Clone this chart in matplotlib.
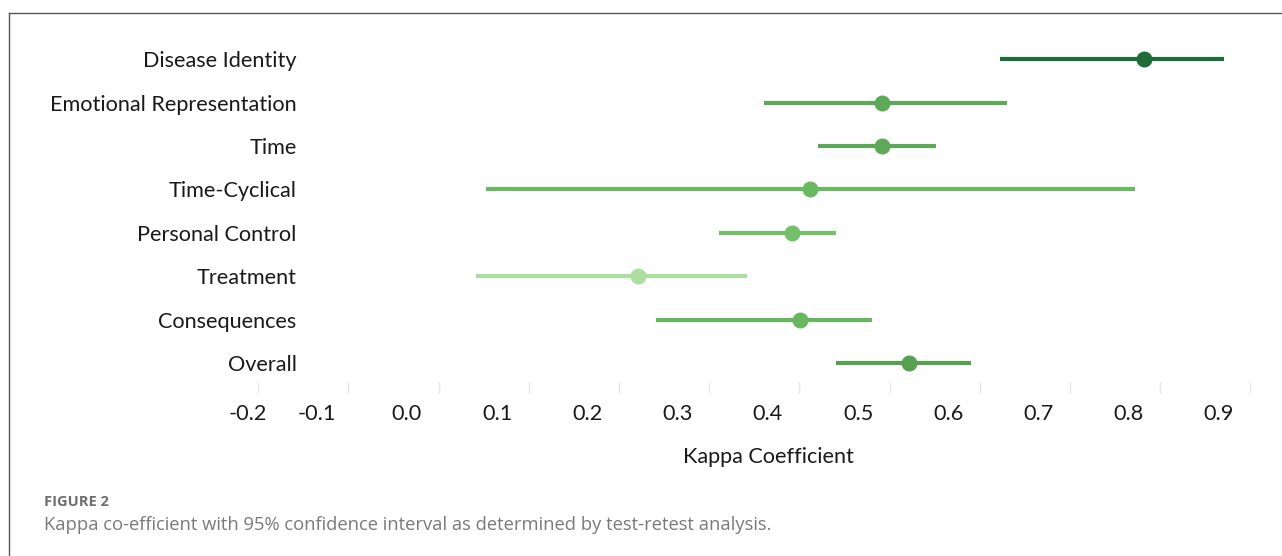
import matplotlib
matplotlib.use('Agg')
import matplotlib.pyplot as plt
from matplotlib.lines import Line2D
from matplotlib import transforms

# ---------------- data ----------------
categories = ['Disease Identity', 'Emotional Representation', 'Time', 'Time-Cyclical',
              'Personal Control', 'Treatment', 'Consequences', 'Overall']
kappa = [0.817, 0.527, 0.527, 0.447, 0.427, 0.256, 0.436, 0.557]
ci_low = [0.657, 0.396, 0.456, 0.088, 0.346, 0.076, 0.276, 0.476]
ci_high = [0.906, 0.665, 0.586, 0.807, 0.476, 0.377, 0.516, 0.625]
colors = ['#1f6b3a', '#5ea957', '#5ea957', '#6bb862', '#74c06a', '#acdea0', '#69b660', '#55a14f']

tick_values = [-0.2, -0.1, 0.0, 0.1, 0.2, 0.3, 0.4, 0.5, 0.6, 0.7, 0.8, 0.9]
tick_labels = ['%.1f' % t for t in tick_values]

FS = 15.6
W, H = 1282, 556
fig = plt.figure(figsize=(W / 100, H / 100), dpi=100)
fig.patch.set_facecolor('white')

# axes placed in pixel terms
ax_left, ax_right, ax_top, ax_bottom = 199.5, 1273, 20, 393
ax = fig.add_axes([ax_left / W, 1 - ax_bottom / H, (ax_right - ax_left) / W, (ax_bottom - ax_top) / H])

ypos = list(range(len(categories)))
for y, k, lo, hi, c in zip(ypos, kappa, ci_low, ci_high, colors):
    ax.plot([lo, hi], [y, y], color=c, lw=3.0, solid_capstyle='butt')
    ax.plot([k], [y], 'o', color=c, ms=10.5, mec=c)

ax.set_xlim(-0.23, 0.96)
ax.set_ylim(7.69, -0.9)

for s in ax.spines.values():
    s.set_visible(False)

ax.set_yticks(ypos)
ax.set_yticklabels(categories, fontsize=FS, family='Lato', color='#1a1a1a')
ax.tick_params(axis='y', length=0, pad=-70)

# tick labels (first one is nudged right, as in the original)
ax.set_xticks(tick_values)
ax.set_xticklabels([''] + tick_labels[1:], fontsize=FS, family='Lato', color='#1a1a1a')
ax.tick_params(axis='x', which='major', length=0, pad=8)
offset = transforms.ScaledTranslation(0.21, -8 / 72, fig.dpi_scale_trans)
ax.text(tick_values[0], 0, tick_labels[0], transform=ax.get_xaxis_transform() + offset,
        ha='center', va='top', fontsize=FS, family='Lato', color='#1a1a1a')

# faint tick marks between labels
ax.set_xticks([t + 0.035 for t in tick_values], minor=True)
ax.tick_params(axis='x', which='minor', direction='in', length=8, color='#e6e6e6', width=1)

ax.set_xlabel('Kappa Coefficient', fontsize=FS, family='Lato', color='#1a1a1a')
ax.xaxis.label.set_va('center')
ax.xaxis.set_label_coords((768 - ax_left) / (ax_right - ax_left), (ax_bottom - 457) / (ax_bottom - ax_top))

# border lines of the figure panel
fig.add_artist(Line2D([9 / W, 1], [1 - 13 / H, 1 - 13 / H], color='#555555', lw=1))
fig.add_artist(Line2D([9 / W, 9 / W], [0, 1 - 13 / H], color='#555555', lw=1))

# caption
fig.text(44 / W, 1 - 502 / H, 'FIGURE 2', fontsize=10.5, fontweight='bold', family='Open Sans',
         color='#6e6e6e', va='center')
fig.text(44 / W, 1 - 525 / H, 'Kappa co-efficient with 95% confidence interval as determined by test-retest analysis.',
         fontsize=13.2, family='Open Sans', color='#7a7a7a', va='center')

fig.savefig('out.png', dpi=100)
